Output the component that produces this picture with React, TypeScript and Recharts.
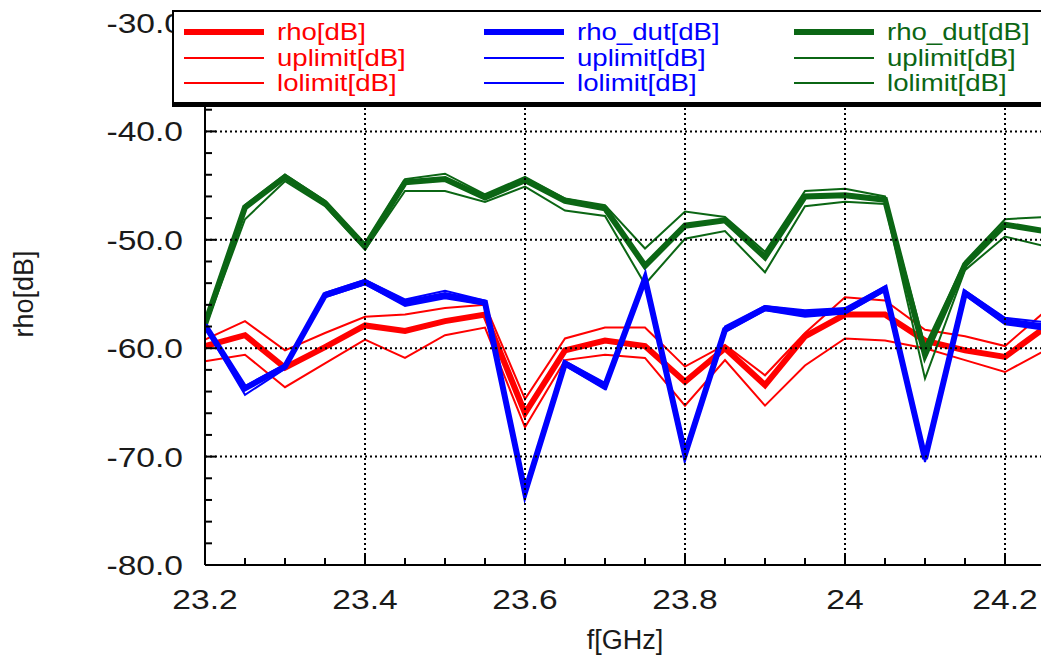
import { LineChart, Line, XAxis, YAxis, ReferenceLine, Legend } from "recharts";

// frequency points [GHz]
const freq = [
  23.2, 23.25, 23.3, 23.35, 23.4, 23.45, 23.5, 23.55, 23.6, 23.65, 23.7,
  23.75, 23.8, 23.85, 23.9, 23.95, 24.0, 24.05, 24.1, 24.15, 24.2, 24.25,
];

// red: rho
const rho = [-59.8, -58.8, -61.8, -59.9, -57.9, -58.4, -57.5, -56.9, -66.0, -60.2, -59.3, -59.8, -63.1, -60.0, -63.4, -58.9, -56.9, -56.9, -59.3, -60.2, -60.8, -58.1];
const rhoUp = [-59.2, -57.5, -60.2, -58.6, -57.1, -56.9, -56.3, -56.0, -64.7, -59.1, -58.1, -58.1, -61.7, -59.7, -62.5, -58.6, -55.3, -55.6, -58.3, -58.9, -59.8, -56.6];
const rhoLo = [-61.2, -60.6, -63.6, -61.4, -59.2, -60.9, -58.8, -58.1, -67.3, -61.1, -60.6, -60.9, -65.3, -61.1, -65.3, -61.6, -59.1, -59.3, -60.0, -61.1, -62.2, -60.2];

// blue: rho_dut
const dut = [-57.9, -63.7, -61.7, -55.1, -53.9, -55.8, -55.1, -55.8, -73.3, -61.4, -63.5, -53.6, -69.8, -58.3, -56.3, -56.8, -56.6, -54.5, -70.2, -54.9, -57.5, -58.0];
const dutUp = [-57.7, -63.5, -61.5, -54.9, -53.7, -55.5, -54.7, -55.6, -73.0, -61.2, -63.2, -53.4, -69.6, -58.0, -56.1, -56.5, -56.3, -54.3, -70.0, -54.7, -57.2, -57.6];
const dutLo = [-58.1, -64.3, -61.9, -55.3, -54.1, -56.1, -55.4, -56.0, -73.6, -61.6, -63.8, -53.8, -70.1, -58.5, -56.5, -57.1, -56.8, -54.7, -70.5, -55.1, -57.8, -58.3];

// green: rho_dut (second set)
const dut2 = [-57.8, -47.0, -44.2, -46.6, -50.6, -44.7, -44.4, -46.1, -44.5, -46.4, -47.1, -52.4, -48.7, -48.2, -51.6, -46.0, -45.9, -46.3, -60.6, -52.3, -48.6, -49.2];
const dut2Up = [-57.5, -46.8, -44.0, -46.4, -50.4, -44.4, -43.9, -45.8, -44.2, -46.2, -46.8, -50.8, -47.4, -47.9, -51.1, -45.5, -45.3, -46.0, -59.8, -52.0, -48.1, -47.9];
const dut2Lo = [-58.1, -48.1, -44.6, -46.9, -50.9, -45.5, -45.5, -46.5, -45.1, -47.3, -47.8, -54.1, -49.9, -49.2, -53.0, -46.9, -46.5, -46.7, -62.8, -52.8, -49.7, -50.6];

const xMajor = [23.2, 23.4, 23.6, 23.8, 24, 24.2];
const xTickLabels = ["23.2", "23.4", "23.6", "23.8", "24", "24.2"];
const yTicks = [-80, -78, -76, -74, -72, -70, -68, -66, -64, -62, -60, -58, -56, -54, -52, -50, -48, -46, -44, -42, -40, -38, -36, -34, -32, -30];
const yMajor = [-80, -70, -60, -50, -40, -30];
const yTickLabels = ["-80.0", "-70.0", "-60.0", "-50.0", "-40.0", "-30.0"];

const RED = "#ff0000";
const BLUE = "#0000ff";
const GREEN = "#0b6614";
const TEXT = "#1a1a1a";
const FONT = "'Liberation Sans', Arial, Helvetica, sans-serif";

const legendRows = [
  [
    { label: "rho[dB]", color: RED, w: 6 },
    { label: "uplimit[dB]", color: RED, w: 2 },
    { label: "lolimit[dB]", color: RED, w: 2 },
  ],
  [
    { label: "rho_dut[dB]", color: BLUE, w: 6 },
    { label: "uplimit[dB]", color: BLUE, w: 2 },
    { label: "lolimit[dB]", color: BLUE, w: 2 },
  ],
  [
    { label: "rho_dut[dB]", color: GREEN, w: 6 },
    { label: "uplimit[dB]", color: GREEN, w: 2 },
    { label: "lolimit[dB]", color: GREEN, w: 2 },
  ],
];

const data = freq.map((f, i) => ({
  f,
  rho: rho[i],
  rhoUp: rhoUp[i],
  rhoLo: rhoLo[i],
  dut: dut[i],
  dutUp: dutUp[i],
  dutLo: dutLo[i],
  dut2: dut2[i],
  dut2Up: dut2Up[i],
  dut2Lo: dut2Lo[i],
}));

const TICK_FS = 28;
const SX = 1.2;
const YM = 10;
const XM = 10;

function YTick(props: any) {
  const { x, y, payload } = props;
  const ax = x + YM;
  const i = yMajor.indexOf(payload.value);
  const major = i >= 0;
  return (
    <g>
      <line x1={ax} x2={ax + (major ? 11 : 7)} y1={y} y2={y} stroke="#000" strokeWidth={2} />
      {major && (
        <text
          transform={`translate(${ax - 22},${y + 10}) scale(${SX},1)`}
          textAnchor="end"
          fontSize={TICK_FS}
          fontFamily={FONT}
          fill={TEXT}
        >
          {yTickLabels[i]}
        </text>
      )}
    </g>
  );
}

function RTick(props: any) {
  const { x, y, payload } = props;
  const major = yMajor.indexOf(payload.value) >= 0;
  return <line x1={x} x2={x - (major ? 11 : 7)} y1={y} y2={y} stroke="#000" strokeWidth={2} />;
}

function XTick(props: any) {
  const { x, y, payload } = props;
  const ay = y - XM;
  const i = xMajor.findIndex((m) => Math.abs(m - payload.value) < 1e-6);
  const major = i >= 0;
  return (
    <g>
      <line x1={x} x2={x} y1={ay} y2={ay - (major ? 11 : 7)} stroke="#000" strokeWidth={2} />
      {major && (
        <text
          transform={`translate(${x},${ay + 44}) scale(${SX},1)`}
          textAnchor="middle"
          fontSize={TICK_FS}
          fontFamily={FONT}
          fill={TEXT}
        >
          {xTickLabels[i]}
        </text>
      )}
    </g>
  );
}

function YTitle(props: any) {
  const vb = props.viewBox || {};
  const cx = 33;
  const cy = (vb.y ?? 23) + (vb.height ?? 542) / 2;
  return (
    <text
      transform={`translate(${cx},${cy}) rotate(-90)`}
      textAnchor="middle"
      fontSize={27}
      fontFamily={FONT}
      fill={TEXT}
    >
      rho[dB]
    </text>
  );
}

function LegendBox() {
  const cols = [10, 310, 620];
  const rows = [20, 46, 71];
  return (
    <div
      style={{
        width: 900,
        height: 97,
        boxSizing: "border-box",
        border: "2px solid #000",
        borderBottom: "5px solid #000",
        background: "#fff",
      }}
    >
      <svg width={900} height={92} style={{ display: "block" }}>
        {legendRows.map((col, ci) =>
          col.map((it, ri) => (
            <g key={`${ci}-${ri}`}>
              <line
                x1={cols[ci]}
                x2={cols[ci] + 80}
                y1={rows[ri]}
                y2={rows[ri]}
                stroke={it.color}
                strokeWidth={it.w}
              />
              <text
                transform={`translate(${cols[ci] + 93},${rows[ri] + 8}) scale(1.2,1)`}
                fontSize={23}
                fontFamily={FONT}
                fill={it.color}
              >
                {it.label}
              </text>
            </g>
          ))
        )}
      </svg>
    </div>
  );
}

const gridStyle = { stroke: "#000", strokeWidth: 2, strokeDasharray: "2 3" };

export default function App() {
  return (
    <div
      style={{
        position: "fixed",
        left: 0,
        top: 0,
        width: 1041,
        height: 657,
        overflow: "hidden",
        background: "#fff",
      }}
    >
      <LineChart width={1055} height={657} data={data} margin={{ top: 23, right: 0, bottom: 0, left: 0 }}>
        <XAxis
          dataKey="f"
          type="number"
          domain={[23.2, 24.25]}
          ticks={freq}
          interval={0}
          tick={<XTick />}
          tickSize={0}
          tickMargin={XM}
          tickLine={false}
          axisLine={{ stroke: "#000", strokeWidth: 2 }}
          height={92}
          allowDataOverflow
          label={{ value: "f[GHz]", position: "insideBottom", offset: 8, fontSize: 27, fontFamily: FONT, fill: TEXT }}
        />
        <YAxis
          yAxisId="l"
          type="number"
          domain={[-80, -30]}
          ticks={yTicks}
          interval={0}
          tick={<YTick />}
          tickSize={0}
          tickMargin={YM}
          tickLine={false}
          axisLine={{ stroke: "#000", strokeWidth: 2 }}
          width={205}
          allowDataOverflow
          label={{ content: (p: any) => <YTitle {...p} /> }}
        />
        <YAxis
          yAxisId="r"
          orientation="right"
          type="number"
          domain={[-80, -30]}
          ticks={yTicks}
          interval={0}
          tick={<RTick />}
          tickSize={0}
          tickMargin={0}
          tickLine={false}
          axisLine={{ stroke: "#000", strokeWidth: 2 }}
          width={10}
        />
        <Legend
          layout="horizontal"
          verticalAlign="middle"
          align="center"
          wrapperStyle={{ top: 10, left: 172, width: 900, height: 97 }}
          content={() => <LegendBox />}
        />
        <Line yAxisId="l" dataKey="rhoUp" stroke={RED} strokeWidth={2} dot={false} isAnimationActive={false} />
        <Line yAxisId="l" dataKey="rhoLo" stroke={RED} strokeWidth={2} dot={false} isAnimationActive={false} />
        <Line yAxisId="l" dataKey="rho" stroke={RED} strokeWidth={6} dot={false} isAnimationActive={false} />
        <Line yAxisId="l" dataKey="dut2Up" stroke={GREEN} strokeWidth={2} dot={false} isAnimationActive={false} />
        <Line yAxisId="l" dataKey="dut2Lo" stroke={GREEN} strokeWidth={2} dot={false} isAnimationActive={false} />
        <Line yAxisId="l" dataKey="dut2" stroke={GREEN} strokeWidth={6} dot={false} isAnimationActive={false} />
        <Line yAxisId="l" dataKey="dutUp" stroke={BLUE} strokeWidth={2} dot={false} isAnimationActive={false} />
        <Line yAxisId="l" dataKey="dutLo" stroke={BLUE} strokeWidth={2} dot={false} isAnimationActive={false} />
        <Line yAxisId="l" dataKey="dut" stroke={BLUE} strokeWidth={6} dot={false} isAnimationActive={false} />
        {xMajor.slice(1).map((v) => (
          <ReferenceLine key={`gx${v}`} yAxisId="l" x={v} {...gridStyle} />
        ))}
        {yMajor.slice(1, 5).map((v) => (
          <ReferenceLine key={`gy${v}`} yAxisId="l" y={v} {...gridStyle} />
        ))}
      </LineChart>
    </div>
  );
}
